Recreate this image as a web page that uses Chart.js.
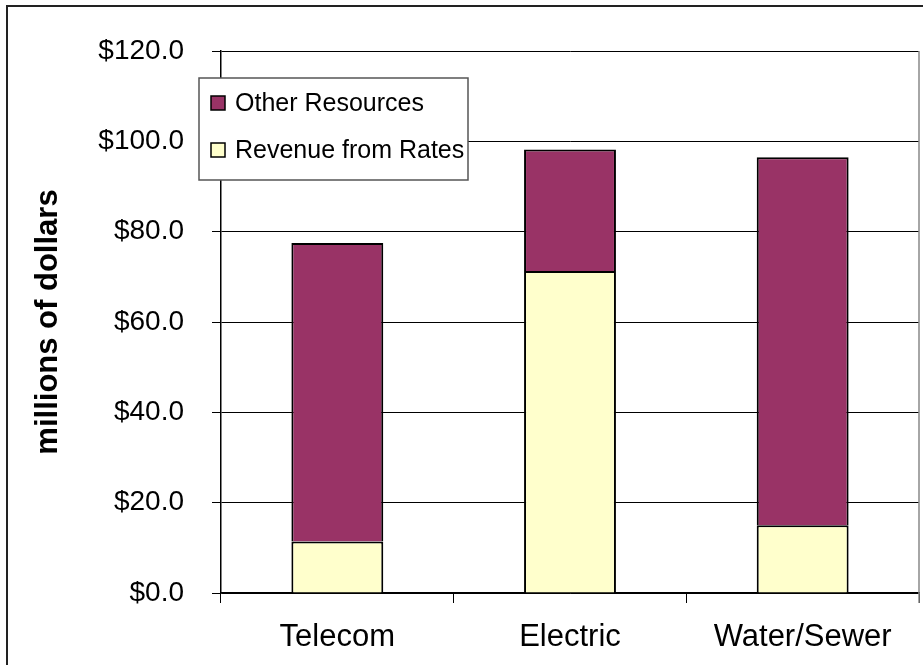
<!DOCTYPE html>
<html>
<head>
<meta charset="utf-8">
<script src="https://cdn.jsdelivr.net/npm/chart.js@4.4.1/dist/chart.umd.min.js"></script>
<style>
	html, body { margin: 0; padding: 0; background: #fff; }
	#wrap { width: 923px; height: 665px; }
</style>
</head>
<body>
<div id="wrap"><canvas id="revenueChart" width="923" height="665"></canvas></div>
<script>
const categories = ['Telecom', 'Electric', 'Water/Sewer'];
const revenueFromRates = [11.4, 71.3, 15.0];
const otherResources = [66.1, 26.9, 81.5];
const yTicks = [0, 20, 40, 60, 80, 100, 120];

const FONT = 'Arial, "Liberation Sans", sans-serif';

// outer frame, plot right edge and the boxed legend
const frameAndLegend = {
	id: 'frameAndLegend',
	afterDraw(chart) {
		const ctx = chart.ctx;
		const area = chart.chartArea;
		ctx.save();

		ctx.strokeStyle = '#222';
		ctx.lineWidth = 2;
		ctx.strokeRect(7, 6, chart.width + 10, chart.height + 10);

		ctx.strokeStyle = '#888';
		ctx.lineWidth = 1.5;
		ctx.beginPath();
		ctx.moveTo(area.right, area.top);
		ctx.lineTo(area.right, area.bottom + 10);
		ctx.stroke();

		const boxX = area.left - 22;
		const boxY = area.top + 27;
		const boxW = 269;
		const boxH = 102;
		ctx.fillStyle = '#fff';
		ctx.fillRect(boxX, boxY, boxW, boxH);
		ctx.strokeStyle = '#555';
		ctx.lineWidth = 1.5;
		ctx.strokeRect(boxX, boxY, boxW, boxH);

		const items = chart.data.datasets.slice().reverse();
		ctx.font = '25px ' + FONT;
		ctx.textBaseline = 'middle';
		items.forEach((ds, i) => {
			const cy = boxY + 25 + i * 47;
			ctx.fillStyle = ds.backgroundColor;
			ctx.fillRect(boxX + 12, cy - 7, 14, 14);
			ctx.strokeStyle = '#000';
			ctx.lineWidth = 1.5;
			ctx.strokeRect(boxX + 12, cy - 7, 14, 14);
			ctx.fillStyle = '#000';
			ctx.fillText(ds.label, boxX + 36, cy + 1);
		});
		ctx.restore();
	}
};

new Chart(document.getElementById('revenueChart').getContext('2d'), {
	type: 'bar',
	data: {
		labels: categories,
		datasets: [{
			label: 'Revenue from Rates',
			data: revenueFromRates,
			backgroundColor: '#FFFFCC',
			borderColor: '#000',
			borderWidth: 2,
			categoryPercentage: 1,
			barPercentage: 0.395
		}, {
			label: 'Other Resources',
			data: otherResources,
			backgroundColor: '#993366',
			borderColor: '#000',
			borderWidth: 2,
			categoryPercentage: 1,
			barPercentage: 0.395
		}]
	},
	options: {
		responsive: false,
		animation: false,
		layout: { padding: { top: 51, right: 4, left: 0, bottom: 0 } },
		plugins: {
			legend: { display: false },
			tooltip: { enabled: false }
		},
		scales: {
			x: {
				stacked: true,
				offset: true,
				afterFit: scale => { scale.height = 72; },
				grid: {
					offset: true,
					drawOnChartArea: false,
					drawTicks: true,
					tickLength: 10,
					color: '#000',
					lineWidth: 1
				},
				border: { color: '#000', width: 1.5 },
				ticks: {
					color: '#000',
					font: { family: FONT, size: 31 },
					padding: 16
				}
			},
			y: {
				stacked: true,
				min: 0,
				max: 120,
				afterFit: scale => { scale.width = 221; },
				afterBuildTicks: scale => { scale.ticks = yTicks.map(v => ({ value: v })); },
				grid: {
					color: '#000',
					lineWidth: 1,
					tickLength: 9
				},
				border: { color: '#000', width: 1.5 },
				ticks: {
					color: '#000',
					font: { family: FONT, size: 28 },
					padding: 28,
					callback: v => '$' + Number(v).toFixed(1)
				},
				title: {
					display: true,
					text: 'millions of dollars',
					color: '#000',
					font: { family: FONT, size: 31, weight: 'bold' },
					padding: { top: 30, bottom: 0 }
				}
			}
		}
	},
	plugins: [frameAndLegend]
});
</script>
</body>
</html>
